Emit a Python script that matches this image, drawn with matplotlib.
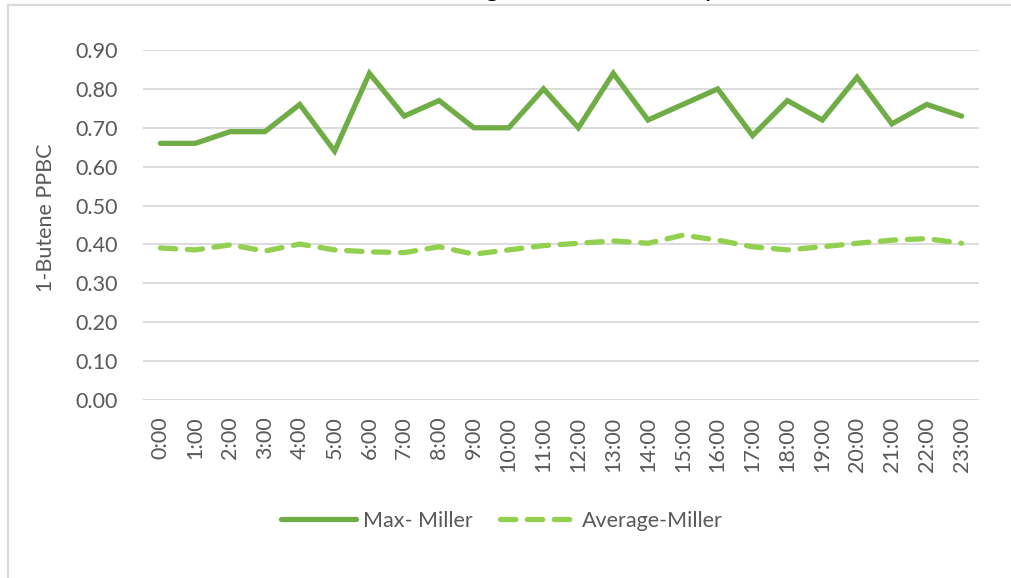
import matplotlib
matplotlib.use("Agg")
import matplotlib.pyplot as plt
from matplotlib.lines import Line2D

# hourly 1-Butene values
hours = [f"{h}:00" for h in range(24)]
max_miller = [0.66, 0.66, 0.69, 0.69, 0.76, 0.64, 0.84, 0.73, 0.77, 0.70, 0.70, 0.80,
              0.70, 0.84, 0.72, 0.76, 0.80, 0.68, 0.77, 0.72, 0.83, 0.71, 0.76, 0.73]
avg_miller = [0.391, 0.386, 0.399, 0.383, 0.401, 0.386, 0.381, 0.379, 0.394, 0.375, 0.386, 0.397,
              0.403, 0.409, 0.403, 0.424, 0.411, 0.394, 0.386, 0.394, 0.403, 0.411, 0.415, 0.403]
y_ticks = [0.0, 0.1, 0.2, 0.3, 0.4, 0.5, 0.6, 0.7, 0.8, 0.9]

plt.rcParams["font.family"] = ["Lato", "DejaVu Sans"]
text_grey = "#595959"
grid_grey = "#D9D9D9"
fs = 15.5

fig = plt.figure(figsize=(10.12, 5.78), dpi=100)
ax = fig.add_axes([143 / 1012, 1 - 400 / 578, (979 - 143) / 1012, 350 / 578])

x = list(range(len(hours)))
ax.plot(x, max_miller, color="#70AD47", lw=3.8, solid_capstyle="round",
        solid_joinstyle="miter", label="Max- Miller")
ax.plot(x, avg_miller, color="#92D050", lw=3.8, linestyle=(0, (2.9, 2.2)),
        dash_capstyle="round", label="Average-Miller")

ax.set_xlim(-0.5, len(hours) - 0.5)
ax.set_ylim(0, 0.9)
ax.set_yticks(y_ticks)
ax.set_yticklabels([f"{v:.2f}" for v in y_ticks])
ax.set_xticks(x)
ax.set_xticklabels(hours, rotation=90)
ax.tick_params(axis="both", length=0, labelsize=fs, colors=text_grey)
ax.tick_params(axis="y", pad=18)
ax.tick_params(axis="x", pad=12)

ax.grid(axis="y", color=grid_grey, lw=1.3)
ax.set_axisbelow(True)
for side in ["top", "right", "left", "bottom"]:
    ax.spines[side].set_visible(False)

ax.set_ylabel("1-Butene PPBC", fontsize=fs, color=text_grey)
ax.yaxis.set_label_coords(-(143 - 56) / 836, 0.52)

fig.legend(loc="center", bbox_to_anchor=(502 / 1012, 1 - 521 / 578), ncol=2,
           frameon=False, fontsize=fs, handlelength=3.5, handletextpad=0.33,
           columnspacing=1.25, labelcolor=text_grey)

# chart frame edges visible in the crop
fig.add_artist(Line2D([8 / 1012, 8 / 1012], [0, 1 - 5 / 578], transform=fig.transFigure,
                      color=grid_grey, lw=1.6))
fig.add_artist(Line2D([8 / 1012, 1], [1 - 5 / 578, 1 - 5 / 578], transform=fig.transFigure,
                      color=grid_grey, lw=1.6))

# title is cut off by the crop, only descenders show
fig.text(504 / 1012, 1 + 4 / 578, "1-Butene Average and Max Hourly", ha="center",
         va="baseline", fontsize=20, color="black")

fig.savefig("out.png", dpi=100)
